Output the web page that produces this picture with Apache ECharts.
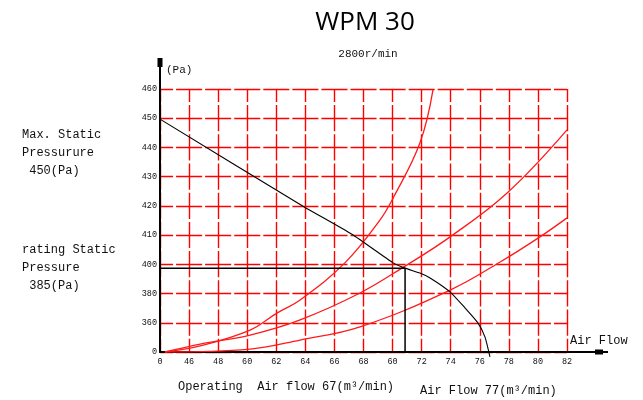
<!DOCTYPE html>
<html>
<head>
<meta charset="utf-8">
<script src="https://cdn.jsdelivr.net/npm/echarts@6/dist/echarts.min.js"></script>
<style>
html, body { margin: 0; padding: 0; background: #fff; }
#main { width: 643px; height: 400px; }
</style>
</head>
<body>
<div id="main"></div>
<script>
// tick labels as printed (the axes are not linear, so the data sit on grid steps)
var xLabels = ['0', '46', '48', '60', '62', '64', '66', '68', '60', '72', '74', '76', '78', '80', '82'];
var yLabels = ['0', '360', '380', '400', '410', '420', '430', '440', '450', '460'];

// [x step, y step]
var fanCurve = [[0, 7.97], [4.92, 4.99], [6.60, 4.03], [8.02, 3.05], [8.43, 2.87], [8.94, 2.70], [9.29, 2.53],
  [9.98, 2.05], [10.49, 1.51], [10.94, 0.99], [11.18, 0.51], [11.35, -0.17]];
var systemSteep = [[0.17, 0], [1.38, 0.21], [3.10, 0.75], [4.02, 1.33], [4.82, 1.78], [6.36, 3.05],
  [7.57, 4.52], [8.02, 5.27], [8.94, 7.15], [9.39, 8.97]];
var systemMid = [[0.17, 0], [1.38, 0.27], [3.10, 0.58], [4.82, 1.10], [6.88, 2.02], [8.43, 2.94],
  [9.98, 3.94], [11.94, 5.44], [14.0, 7.60]];
var systemLow = [[0.17, 0], [3.10, 0.10], [4.82, 0.41], [6.88, 0.86], [9.98, 2.12], [11.70, 3.08],
  [13.07, 3.94], [14.0, 4.59]];
var operating = [[0, 2.87], [8.43, 2.87], [8.43, 0]];

var chart = echarts.init(document.getElementById('main'));
var mono = '"Liberation Mono", "DejaVu Sans Mono", monospace';

var redLine = function (data) {
  return {
    type: 'line', data: data, smooth: 0.4, symbol: 'none',
    lineStyle: { color: '#ff1a1a', width: 1.3 }
  };
};

var option = {
  animation: false,
  grid: { left: 160, right: 76, top: 89, bottom: 48 },
  xAxis: {
    type: 'value', min: 0, max: 14, interval: 1,
    axisLine: { lineStyle: { color: '#000', width: 2 } },
    axisTick: { show: false },
    axisLabel: {
      margin: 5, color: '#111', fontSize: 8.5, fontFamily: mono,
      formatter: function (v) { return xLabels[Math.round(v)]; }
    },
    // gaps fall mid-cell like the printed grid
    splitLine: { show: true, lineStyle: { color: '#ff0000', width: 1.4, type: [26.2, 3], dashOffset: 13.1 } }
  },
  yAxis: {
    type: 'value', min: 0, max: 9, interval: 1,
    axisLine: { show: true, lineStyle: { color: '#000', width: 2 } },
    axisTick: { show: false },
    axisLabel: {
      margin: 3, color: '#111', fontSize: 8.5, fontFamily: mono,
      formatter: function (v) { return yLabels[Math.round(v)]; }
    },
    splitLine: { show: true, lineStyle: { color: '#ff0000', width: 1.4, type: [26.07, 3], dashOffset: 13 } }
  },
  series: [
    redLine(systemSteep),
    redLine(systemMid),
    redLine(systemLow),
    {
      type: 'line', data: fanCurve, smooth: 0.2, symbol: 'none', clip: false,
      lineStyle: { color: '#000', width: 1.1 }
    },
    {
      type: 'line', data: operating, symbol: 'none',
      lineStyle: { color: '#000', width: 1.5 }
    }
  ]
};
chart.setOption(option);

// axis extensions with end marks, and the loose texts
var o = chart.convertToPixel({ gridIndex: 0 }, [0, 0]);
var txt = function (x, y, s, size, extra) {
  var st = { text: s, font: (size || 11) + 'px ' + mono, fill: '#111' };
  for (var k in extra) st[k] = extra[k];
  return { type: 'text', x: x, y: y, style: st };
};
chart.setOption({
  graphic: [
    { type: 'line', shape: { x1: o[0], y1: o[1], x2: o[0], y2: 58 }, style: { stroke: '#000', lineWidth: 2 } },
    { type: 'rect', shape: { x: o[0] - 2.5, y: 58, width: 5, height: 9 }, style: { fill: '#000' } },
    { type: 'line', shape: { x1: o[0], y1: o[1], x2: 608, y2: o[1] }, style: { stroke: '#000', lineWidth: 2 } },
    { type: 'rect', shape: { x: 595, y: o[1] - 2.5, width: 8, height: 5 }, style: { fill: '#000' } },
    { type: 'text', x: 365, y: 10, style: { text: 'WPM 30', font: '26px "Open Sans", sans-serif', fill: '#000', textAlign: 'center' } },
    txt(368, 49, '2800r/min', 11, { textAlign: 'center' }),
    txt(166, 65, '(Pa)', 11),
    txt(570, 335, 'Air Flow', 12),
    txt(22, 126, 'Max. Static\nPressurure\n 450(Pa)', 12, { lineHeight: 18 }),
    txt(22, 241, 'rating Static\nPressure\n 385(Pa)', 12, { lineHeight: 18 }),
    txt(178, 381, 'Operating  Air flow 67(m\u00b3/min)', 12),
    txt(420, 385, 'Air Flow 77(m\u00b3/min)', 12)
  ]
});
</script>
</body>
</html>
